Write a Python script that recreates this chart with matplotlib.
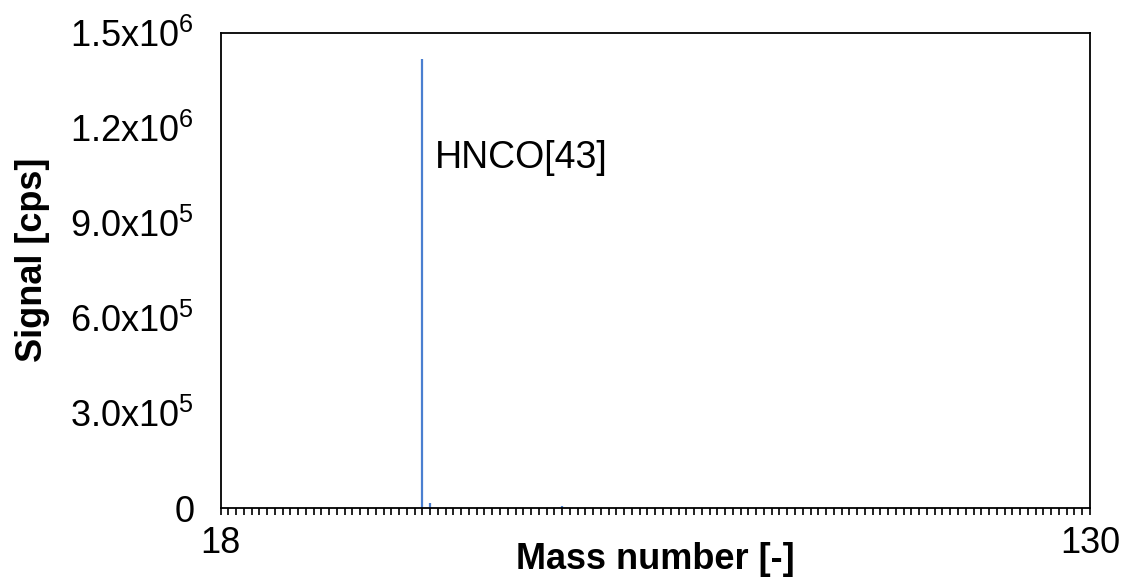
import matplotlib
matplotlib.use("Agg")
import matplotlib.pyplot as plt
from matplotlib.ticker import MultipleLocator, FixedLocator

plt.rcParams['font.family'] = ['Liberation Sans', 'DejaVu Sans']
plt.rcParams['mathtext.fontset'] = 'custom'
plt.rcParams['mathtext.rm'] = 'Liberation Sans'

# mass spectrum peaks (everything else sits on the baseline)
peak_mass = [44, 45, 62]
peak_signal = [1.42e6, 1.5e4, 6.0e3]

x_range = [18, 130]
y_ticks = [0, 3.0e5, 6.0e5, 9.0e5, 1.2e6, 1.5e6]
y_ticklabels = ['0', r'3.0x10$^{5}$', r'6.0x10$^{5}$', r'9.0x10$^{5}$',
                r'1.2x10$^{6}$', r'1.5x10$^{6}$']

fig = plt.figure(figsize=(11.28, 5.83), dpi=100)
ax = fig.add_axes([0.1955, 0.1286, 0.7708, 0.8144])

ax.vlines(peak_mass, 0, peak_signal, color='#4a7fd0', linewidth=1.6)
ax.text(45.6, 1.105e6, 'HNCO[43]', fontsize=27, ha='left', va='center')

ax.set_xlim(x_range)
ax.set_ylim(0, 1.5e6)

ax.xaxis.set_major_locator(FixedLocator(x_range))
ax.xaxis.set_minor_locator(MultipleLocator(1))
ax.set_yticks(y_ticks)
ax.set_yticklabels(y_ticklabels)

ax.tick_params(axis='x', which='both', direction='out', length=5, width=1.4,
               pad=8, labelsize=26, color='#222222')
ax.tick_params(axis='y', which='both', length=0, pad=19, labelsize=26)

for s in ax.spines.values():
    s.set_linewidth(1.3)
    s.set_color('black')

ax.set_xlabel('Mass number [-]', fontsize=26, fontweight='bold')
ax.set_ylabel('Signal [cps]', fontsize=26, fontweight='bold')
ax.xaxis.set_label_coords(0.5, -0.072)
ax.yaxis.set_label_coords(-0.196, 0.522)

fig.savefig('out.png', dpi=100)
